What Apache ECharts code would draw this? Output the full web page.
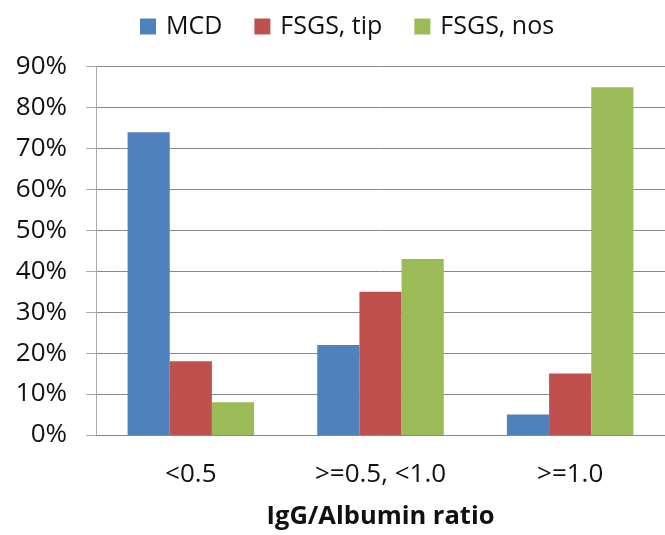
<!DOCTYPE html>
<html>
<head>
<meta charset="utf-8">
<script src="https://cdn.jsdelivr.net/npm/echarts@6/dist/echarts.min.js"></script>
<style>
html,body{margin:0;padding:0;background:#fff;}
#chart{width:665px;height:535px;}
</style>
</head>
<body>
<div id="chart"></div>
<script>
var categories = ['<0.5', '>=0.5, <1.0', '>=1.0'];
var seriesNames = ['MCD', 'FSGS, tip', 'FSGS, nos'];
var mcdValues = [74, 22, 5];
var fsgsTipValues = [18, 35, 15];
var fsgsNosValues = [8, 43, 85];
var yTicks = [0, 10, 20, 30, 40, 50, 60, 70, 80, 90];
var xAxisTitle = 'IgG/Albumin ratio';

var colors = ['#4F81BD', '#C0504D', '#9BBB59'];
var FONT = '"Open Sans", "Liberation Sans", sans-serif';
var seriesData = [mcdValues, fsgsTipValues, fsgsNosValues];

var chart = echarts.init(document.getElementById('chart'), null, {renderer: 'canvas'});
chart.setOption({
  animation: false,
  backgroundColor: '#ffffff',
  color: colors,
  textStyle: {fontFamily: FONT, color: '#111'},
  legend: {
    data: seriesNames,
    left: 135,
    top: 9,
    itemWidth: 16,
    itemHeight: 16,
    itemGap: 32,
    icon: 'rect',
    textStyle: {fontFamily: FONT, fontSize: 25, color: '#111', padding: [0, 0, 0, 5]}
  },
  grid: {left: 96, top: 66.7, width: 580.5, height: 375, containLabel: false},
  xAxis: {
    type: 'category',
    data: categories,
    name: xAxisTitle,
    nameLocation: 'middle',
    nameGap: 69,
    nameTextStyle: {fontFamily: FONT, fontSize: 25.5, fontWeight: 'bold', color: '#111'},
    axisLine: {show: true, lineStyle: {color: '#888', width: 1}},
    axisTick: {show: false},
    axisLabel: {fontFamily: FONT, fontSize: 26, color: '#111', margin: 27},
    splitLine: {show: false}
  },
  yAxis: {
    type: 'value',
    min: yTicks[0],
    max: yTicks[yTicks.length - 1],
    interval: yTicks[1] - yTicks[0],
    axisLine: {show: true, lineStyle: {color: '#aaa', width: 1}},
    axisTick: {show: true, length: 10, inside: false, lineStyle: {color: '#aaa'}},
    axisLabel: {fontFamily: FONT, fontSize: 26, color: '#111', margin: 29, formatter: '{value}%'},
    splitLine: {show: true, lineStyle: {color: '#888', width: 1}}
  },
  series: seriesNames.map(function (name, i) {
    return {
      name: name,
      type: 'bar',
      data: seriesData[i],
      barGap: '0%',
      barCategoryGap: '33.3%',
      itemStyle: {color: colors[i]}
    };
  })
});
</script>
</body>
</html>
